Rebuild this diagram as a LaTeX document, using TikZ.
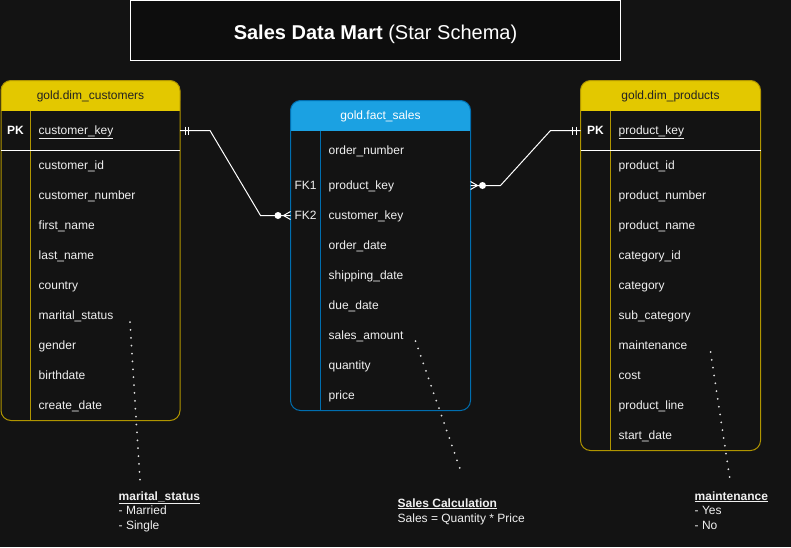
\documentclass[tikz,border=0pt]{standalone}
\usepackage{fontspec}
\setmainfont{Liberation Sans}
\definecolor{bgdark}{HTML}{131313}
\definecolor{boxdark}{HTML}{0D0D0D}
\definecolor{hdyellow}{HTML}{E3C800}
\definecolor{lnyellow}{HTML}{B09500}
\definecolor{hdblue}{HTML}{1BA1E2}
\definecolor{lnblue}{HTML}{006EAF}
\definecolor{fieldtxt}{HTML}{F0F0F0}
\definecolor{hdtxt}{HTML}{222222}
\begin{document}
\begin{tikzpicture}[x=1pt, y=-1pt,
  field/.style={anchor=base west, yshift=-4.8pt, inner sep=0, text=fieldtxt, font=\fontsize{12}{14}\selectfont},
  keycol/.style={anchor=base, yshift=-4.8pt, inner sep=0, text=fieldtxt, font=\fontsize{12}{14}\selectfont},
  headtxt/.style={inner sep=0, font=\fontsize{12}{14}\selectfont},
  notetxt/.style={anchor=base west, inner sep=0, text=fieldtxt, font=\fontsize{12}{14}\selectfont},
  relline/.style={white, line width=1pt},
  dotline/.style={white!88!black, line width=2pt, line cap=round, dash pattern=on 0pt off 7.9pt}]
\useasboundingbox (0,0) rectangle (791,547);
\fill[bgdark] (0,0) rectangle (791,547);

\draw[white, fill=boxdark, line width=1pt] (130.5,0.5) rectangle (620.5,60.5);
\node (title) at (375.5,39) [anchor=base, inner sep=0, text=white, font=\fontsize{20}{24}\selectfont]{\textbf{Sales Data Mart} (Star Schema)};

\fill[hdyellow, rounded corners=10] (1,80.5) rectangle (180,110.5);
\fill[hdyellow] (1,100) rectangle (180,110.5);
\draw[lnyellow, line width=1pt, rounded corners=10] (1,80.5) rectangle (180,420.5);
\draw[lnyellow, line width=1pt] (30.5,110.5) -- (30.5,420.5);
\draw[white, line width=1pt] (1,150.5) -- (180,150.5);
\node (custhd) at (90.5,96) [headtxt, text=hdtxt]{gold.dim\_customers};
\node (custpk) at (15.5,130) [keycol, font=\fontsize{12}{14}\selectfont\bfseries, text=white]{PK};
\node (custkey) at (38.5,130) [field]{\underline{customer\_key}};
\node (custid) at (38.5,165) [field]{customer\_id};
\node (custnum) at (38.5,195) [field]{customer\_number};
\node (custfirst) at (38.5,225) [field]{first\_name};
\node (custlast) at (38.5,255) [field]{last\_name};
\node (custcountry) at (38.5,285) [field]{country};
\node (custmarital) at (38.5,315) [field]{marital\_status};
\node (custgender) at (38.5,345) [field]{gender};
\node (custbirth) at (38.5,375) [field]{birthdate};
\node (custcreate) at (38.5,405) [field]{create\_date};

\fill[hdblue, rounded corners=10] (290.5,100.5) rectangle (470.5,130.5);
\fill[hdblue] (290.5,120) rectangle (470.5,130.5);
\draw[lnblue, line width=1pt, rounded corners=10] (290.5,100.5) rectangle (470.5,410.5);
\draw[lnblue, line width=1pt] (320.5,130.5) -- (320.5,410.5);
\node (facthd) at (380.5,116) [headtxt, text=white]{gold.fact\_sales};
\node (factorder) at (328.5,150) [field]{order\_number};
\node (factfka) at (305.5,185) [keycol]{FK1};
\node (factprod) at (328.5,185) [field]{product\_key};
\node (factfkb) at (305.5,215) [keycol]{FK2};
\node (factcust) at (328.5,215) [field]{customer\_key};
\node (factodate) at (328.5,245) [field]{order\_date};
\node (factship) at (328.5,275) [field]{shipping\_date};
\node (factdue) at (328.5,305) [field]{due\_date};
\node (factsales) at (328.5,335) [field]{sales\_amount};
\node (factqty) at (328.5,365) [field]{quantity};
\node (factprice) at (328.5,395) [field]{price};

\fill[hdyellow, rounded corners=10] (580.5,80.5) rectangle (760.5,110.5);
\fill[hdyellow] (580.5,100) rectangle (760.5,110.5);
\draw[lnyellow, line width=1pt, rounded corners=10] (580.5,80.5) rectangle (760.5,450.5);
\draw[lnyellow, line width=1pt] (610.5,110.5) -- (610.5,450.5);
\draw[white, line width=1pt] (580.5,150.5) -- (760.5,150.5);
\node (prodhd) at (670.5,96) [headtxt, text=hdtxt]{gold.dim\_products};
\node (prodpk) at (595.5,130) [keycol, font=\fontsize{12}{14}\selectfont\bfseries, text=white]{PK};
\node (prodkey) at (618.5,130) [field]{\underline{product\_key}};
\node (prodid) at (618.5,165) [field]{product\_id};
\node (prodnum) at (618.5,195) [field]{product\_number};
\node (prodname) at (618.5,225) [field]{product\_name};
\node (prodcatid) at (618.5,255) [field]{category\_id};
\node (prodcat) at (618.5,285) [field]{category};
\node (prodsub) at (618.5,315) [field]{sub\_category};
\node (prodmaint) at (618.5,345) [field]{maintenance};
\node (prodcost) at (618.5,375) [field]{cost};
\node (prodline) at (618.5,405) [field]{product\_line};
\node (prodstart) at (618.5,435) [field]{start\_date};

\coordinate (custone) at (180,130.5);
\coordinate (custmany) at (290.5,215.5);
\coordinate (prodone) at (580.5,130.5);
\coordinate (prodmany) at (470.5,185.5);
\draw[relline] (custone) -- ++(30,0) -- ([xshift=-30pt]custmany) -- (custmany);
\draw[relline] ([xshift=5pt]custone) ++(0,-4) -- ++(0,8);
\draw[relline] ([xshift=8.5pt]custone) ++(0,-4) -- ++(0,8);
\draw[relline] ([xshift=-7pt]custmany) -- ([yshift=4pt]custmany);
\draw[relline] ([xshift=-7pt]custmany) -- ([yshift=-4pt]custmany);
\fill[white] ([xshift=-12.5pt]custmany) circle (3.5);
\draw[relline] (prodmany) -- ++(30,0) -- ([xshift=-30pt]prodone) -- (prodone);
\draw[relline] ([xshift=-4.5pt]prodone) ++(0,-4) -- ++(0,8);
\draw[relline] ([xshift=-8pt]prodone) ++(0,-4) -- ++(0,8);
\draw[relline] ([xshift=7pt]prodmany) -- ([yshift=4pt]prodmany);
\draw[relline] ([xshift=7pt]prodmany) -- ([yshift=-4pt]prodmany);
\fill[white] ([xshift=12pt]prodmany) circle (3.5);

\node (msnote) at (118.5,500) [notetxt, font=\fontsize{12}{14}\selectfont\bfseries]{\underline{marital\_status}};
\node (msmarried) at (118.5,514.5) [notetxt]{- Married};
\node (mssingle) at (118.5,529.5) [notetxt]{- Single};
\node (calcnote) at (397.5,507) [notetxt, font=\fontsize{12}{14}\selectfont\bfseries]{\underline{Sales Calculation}};
\node (calcform) at (397.5,522) [notetxt]{Sales = Quantity * Price};
\node (mtnote) at (694.5,500) [notetxt, font=\fontsize{12}{14}\selectfont\bfseries]{\underline{maintenance}};
\node (mtyes) at (694.5,514.5) [notetxt]{- Yes};
\node (mtno) at (694.5,529.5) [notetxt]{- No};

\coordinate (msfrom) at (130,322);
\coordinate (calcfrom) at (415.5,341);
\coordinate (mtfrom) at (710.5,352);
\draw[dotline] (msfrom) -- ([xshift=21.5pt, yshift=11pt]msnote.north west);
\draw[dotline] (calcfrom) -- ([xshift=63pt, yshift=28pt]calcnote.north west);
\draw[dotline] (mtfrom) -- ([xshift=35.5pt, yshift=11pt]mtnote.north west);
\end{tikzpicture}
\end{document}
